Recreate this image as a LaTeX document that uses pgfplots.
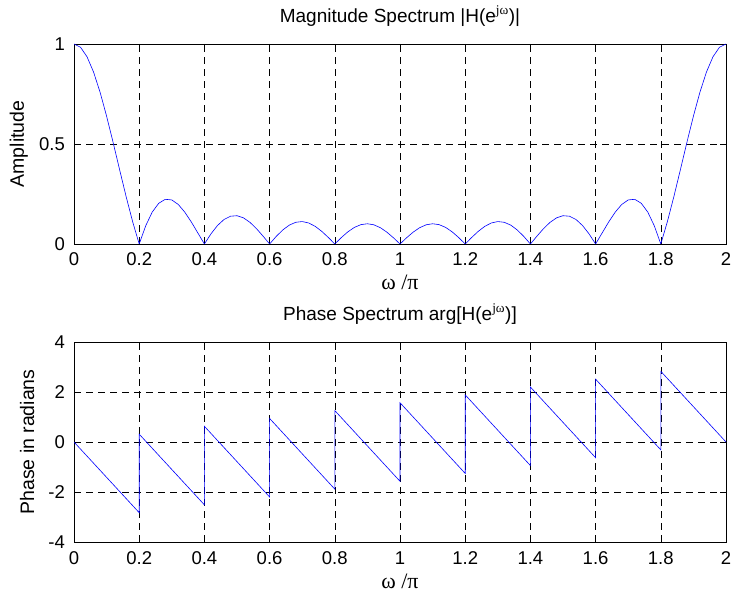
\documentclass[border=0pt]{standalone}
\usepackage{fontspec}
\setmainfont{Liberation Sans}
\newfontfamily\grk{Liberation Serif}
\usepackage{pgfplots}
\pgfplotsset{compat=1.18}
\pgfplotstableread{
x y
0.00 1
0.02 0.9837
0.04 0.9361
0.06 0.8597
0.08 0.7589
0.10 0.6392
0.12 0.5076
0.14 0.3709
0.16 0.2364
0.18 0.1108
0.20 0
0.22 0.0912
0.24 0.1597
0.26 0.2037
0.28 0.2234
0.30 0.2203
0.32 0.1974
0.34 0.1589
0.36 0.1097
0.38 0.0550
0.40 0
0.42 0.0504
0.44 0.0922
0.46 0.1223
0.48 0.1389
0.50 0.1414
0.52 0.1305
0.54 0.1079
0.56 0.0763
0.58 0.0391
0.60 0
0.62 0.0374
0.64 0.0696
0.66 0.0940
0.68 0.1085
0.70 0.1122
0.72 0.1051
0.74 0.0881
0.76 0.0632
0.78 0.0328
0.80 0
0.82 0.0322
0.84 0.0607
0.86 0.0829
0.88 0.0968
0.90 0.1012
0.92 0.0959
0.94 0.0813
0.96 0.0589
0.98 0.0309
1.00 0
1.02 0.0309
1.04 0.0589
1.06 0.0813
1.08 0.0959
1.10 0.1012
1.12 0.0968
1.14 0.0829
1.16 0.0607
1.18 0.0322
1.20 0
1.22 0.0328
1.24 0.0632
1.26 0.0881
1.28 0.1051
1.30 0.1122
1.32 0.1085
1.34 0.0940
1.36 0.0696
1.38 0.0374
1.40 0
1.42 0.0391
1.44 0.0763
1.46 0.1079
1.48 0.1305
1.50 0.1414
1.52 0.1389
1.54 0.1223
1.56 0.0922
1.58 0.0504
1.60 0
1.62 0.0550
1.64 0.1097
1.66 0.1589
1.68 0.1974
1.70 0.2203
1.72 0.2234
1.74 0.2037
1.76 0.1597
1.78 0.0912
1.80 0
1.82 0.1108
1.84 0.2364
1.86 0.3709
1.88 0.5076
1.90 0.6392
1.92 0.7589
1.94 0.8597
1.96 0.9361
1.98 0.9837
2.00 1
}\magtable
\pgfplotstableread{
x y
0.0 0
0.2 -2.8274
0.2 0.3142
0.4 -2.5133
0.4 0.6283
0.6 -2.1991
0.6 0.9425
0.8 -1.8850
0.8 1.2566
1.0 -1.5708
1.0 1.5708
1.2 -1.2566
1.2 1.8850
1.4 -0.9425
1.4 2.1991
1.6 -0.6283
1.6 2.5133
1.8 -0.3142
1.8 2.8274
2.0 0
}\phasetable
\pgfplotsset{
  mstyle/.style={
    scale only axis, width=652bp, height=200bp,
    anchor=south west,
    xmin=0, xmax=2,
    xtick={0,0.2,...,2.01},
    grid=major,
    major grid style={black, dash pattern=on 7bp off 5bp, line width=0.5bp},
    axis line style={black, line width=0.9bp},
    tick style={black, line width=0.6bp},
    major tick length=6bp,
    tick align=inside, tick pos=both,
    /pgf/number format/assume math mode=true,
    tick label style={font=\fontsize{18.5bp}{22bp}\selectfont, inner sep=0pt},
    xticklabel style={anchor=base, yshift=-22bp},
    yticklabel style={anchor=east, xshift=-9bp},
    label style={font=\fontsize{19.5bp}{22bp}\selectfont},
    title style={font=\fontsize{19bp}{22bp}\selectfont, at={(0.5,1)}, anchor=base, yshift=16bp, inner sep=0pt},
    xlabel={\fontsize{22bp}{24bp}\selectfont\grk ω /π},
    xlabel style={at={(axis description cs:0.5,0)}, anchor=base, yshift=-46bp, inner sep=0pt},
  }
}
\begin{document}
\begin{tikzpicture}
\useasboundingbox (0,0) rectangle (733bp,594bp);
\begin{axis}[mstyle, at={(74bp,350bp)},
  ymin=0, ymax=1, ytick={0,0.5,1},
  title={Magnitude Spectrum |H(e\textsuperscript{\grk jω})|},
  ylabel={Amplitude},
  ylabel style={at={(axis description cs:-0.0767,0.5)}, anchor=base, inner sep=0pt},
]
\addplot[blue, line width=0.6bp] table[x=x,y=y] {\magtable};
\end{axis}
\begin{axis}[mstyle, at={(74bp,52bp)},
  ymin=-4, ymax=4, ytick={-4,-2,0,2,4},
  title={Phase Spectrum arg[H(e\textsuperscript{\grk jω})]},
  ylabel={Phase in radians},
  ylabel style={at={(axis description cs:-0.0613,0.5)}, anchor=base, inner sep=0pt},
]
\addplot[blue, line width=0.6bp] table[x=x,y=y] {\phasetable};
\end{axis}
\end{tikzpicture}
\end{document}
